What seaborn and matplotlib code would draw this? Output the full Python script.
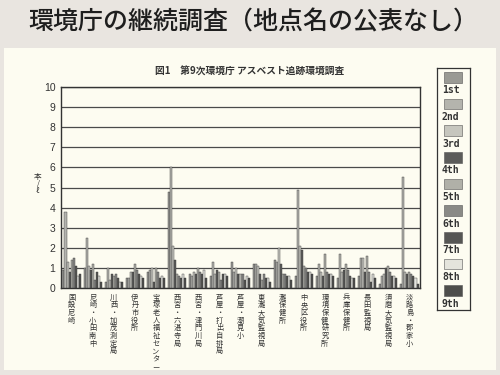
import pandas as pd
import numpy as np
import matplotlib
matplotlib.use("Agg")
import matplotlib.pyplot as plt
import seaborn as sns
from matplotlib.patches import Rectangle

# =========================
# DATA
# =========================

sites = ["国設尼崎", "尼崎・小田南中", "川西・加茂測定局", "伊丹市役所",
         "宝塚老人福祉センター", "西宮・六湛寺局", "西宮・津門川局",
         "芦屋・打出自排局", "芦屋・潮見小", "東灘大気監視局", "灘保健所",
         "中央区役所", "環境保健研究所", "兵庫保健所", "長田監視局",
         "須磨大気監視局", "淡路島・郡家小"]

rounds = ["1st", "2nd", "3rd", "4th", "5th", "6th", "7th", "8th", "9th"]

# fibers per litre, one row per site, one column per survey round
values = [
    [0.9, 3.8, 1.3, 0.8, 1.4, 1.5, 1.1, 0.6, 0.7],
    [1.0, 2.5, 1.1, 0.9, 1.2, 0.4, 0.8, 0.6, 0.3],
    [0.3, 1.0, 0.4, 0.7, 0.6, 0.7, 0.5, 0.3, 0.3],
    [0.5, 0.5, 0.8, 0.8, 1.2, 0.9, 0.7, 0.6, 0.5],
    [0.8, 0.9, 1.0, 0.3, 1.0, 0.8, 0.5, 0.6, 0.5],
    [4.8, 6.0, 2.1, 1.4, 0.7, 0.6, 0.5, 0.7, 0.5],
    [0.7, 0.6, 0.8, 0.7, 1.0, 0.8, 0.7, 0.9, 0.5],
    [0.6, 1.3, 0.7, 0.9, 0.8, 0.4, 0.7, 0.7, 0.6],
    [1.3, 0.8, 1.0, 0.7, 0.7, 0.7, 0.4, 0.6, 0.5],
    [1.2, 1.2, 1.1, 0.7, 0.4, 0.7, 0.5, 0.5, 0.3],
    [1.4, 1.3, 2.0, 1.2, 0.7, 0.7, 0.6, 0.6, 0.4],
    [0.6, 4.9, 2.1, 1.9, 1.1, 1.0, 0.8, 0.8, 0.7],
    [0.6, 1.2, 0.8, 0.6, 1.7, 0.8, 0.7, 0.7, 0.6],
    [0.5, 1.7, 0.8, 0.9, 1.2, 0.9, 0.6, 0.5, 0.5],
    [0.6, 1.5, 1.5, 0.8, 1.6, 0.8, 0.3, 0.7, 0.5],
    [0.2, 0.6, 0.7, 1.0, 1.1, 0.8, 0.6, 0.6, 0.5],
    [0.2, 5.5, 0.8, 0.7, 0.8, 0.7, 0.6, 0.5, 0.2],
]

colors = ["#9a9a94", "#b4b4ad", "#c6c6be", "#5c5c5a", "#b0b0a8",
          "#8a8a86", "#565654", "#e4e4dc", "#4e4e4c"]

df = pd.DataFrame(values, columns=rounds)
df["site"] = sites
long_df = df.melt(id_vars="site", var_name="round", value_name="value")

# =========================
# FIGURE
# =========================

sns.set_style("white")
plt.rcParams["font.family"] = ["Noto Sans CJK JP", "DejaVu Sans"]

fig = plt.figure(figsize=(5, 3.75), dpi=100, facecolor="#e9e5e0")

# cream "slide" area, kept behind the axes
fig.patches.append(Rectangle((4 / 500, 1 - 370 / 375), 492 / 500, 322 / 375,
                             transform=fig.transFigure, facecolor="#fdfcf1",
                             edgecolor="none", zorder=-10))

fig.text(28 / 500, 1 - 22 / 375, "環境庁の継続調査（地点名の公表なし）",
         fontsize=18, color="#1e1e1e", va="center", ha="left", fontweight="medium")
fig.text(250 / 500, 1 - 72 / 375, "図1　第9次環境庁 アスベスト追跡環境調査",
         fontsize=7, color="#333333", va="center", ha="center", fontweight="bold")
fig.text(38 / 500, 1 - 184 / 375, "本\n/\nℓ", fontsize=5.5, color="#333333",
         va="center", ha="center", linespacing=0.9)

ax = fig.add_axes([61 / 500, 1 - 288 / 375, 359 / 500, 201 / 375])
ax.set_facecolor("#fdfcf1")

sns.barplot(data=long_df, x="site", y="value", hue="round", hue_order=rounds,
            palette=colors, width=0.86, edgecolor="#3a3a3a", linewidth=0.3,
            legend=False, ax=ax, zorder=3)

ax.set_ylim(0, 10)
ax.set_xlim(-0.5, len(sites) - 0.5)
ax.set_yticks(range(0, 11))
ax.yaxis.grid(True, color="#4a4a4a", linewidth=0.9)
ax.set_axisbelow(True)
for s in ax.spines.values():
    s.set_color("#333333")
    s.set_linewidth(1.0)

ax.set_xlabel("")
ax.set_ylabel("")
ax.set_xticks(range(len(sites)))
ax.set_xticklabels(["\n".join(name) for name in sites], fontsize=5.2,
                   color="#333333", va="top", ha="center", rotation=0,
                   linespacing=0.95)
ax.tick_params(axis="x", length=0, pad=4)
ax.set_xticks(np.arange(-0.5, len(sites), 1), minor=True)
ax.tick_params(axis="x", which="minor", length=3, color="#333333", direction="out")
ax.tick_params(axis="y", length=3, color="#333333", labelsize=7.5,
               labelcolor="#333333", pad=1)
for lab in ax.get_yticklabels():
    lab.set_fontfamily("Liberation Sans")

# =========================
# LEGEND (patch above each label)
# =========================

lax = fig.add_axes([437 / 500, 1 - 310 / 375, 33 / 500, 242 / 375])
lax.set_facecolor("#fdfcf1")
lax.set_xlim(0, 1)
lax.set_ylim(len(rounds) * 26.25 + 2, 0)
lax.set_xticks([])
lax.set_yticks([])
for s in lax.spines.values():
    s.set_color("#333333")
    s.set_linewidth(0.9)
for i, (r, c) in enumerate(zip(rounds, colors)):
    top = 4 + i * 26.25
    lax.add_patch(Rectangle((0.2, top), 0.55, 10.5, facecolor=c,
                            edgecolor="#555555", linewidth=0.4))
    lax.text(0.15, top + 18, r, fontsize=7, fontweight="bold",
             family="DejaVu Sans Mono", color="#333333", va="center", ha="left")

fig.savefig("out.png", dpi=100, facecolor=fig.get_facecolor())
